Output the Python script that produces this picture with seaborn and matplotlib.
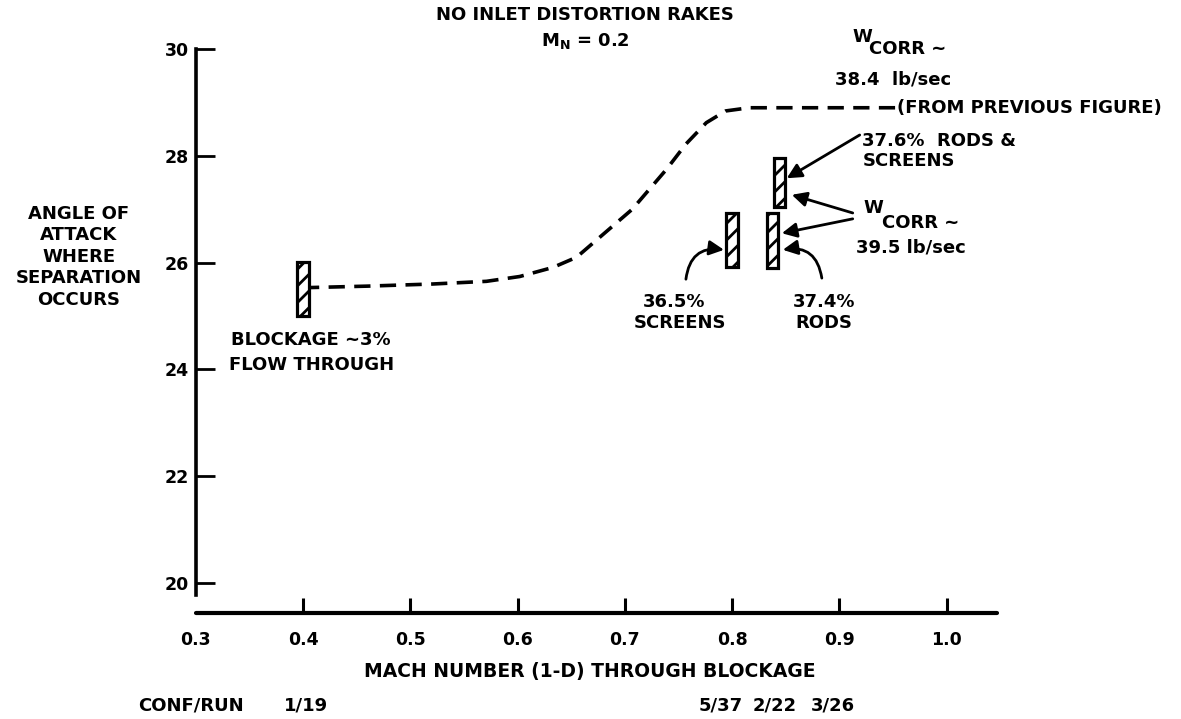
import matplotlib
matplotlib.use("Agg")
import matplotlib.pyplot as plt
import seaborn as sns
import pandas as pd

# ---------------- data ----------------
curve_mach = [0.400, 0.460, 0.521, 0.571, 0.602, 0.633, 0.655, 0.681, 0.707,
              0.739, 0.757, 0.776, 0.794, 0.816, 0.952]
curve_aoa = [25.53, 25.56, 25.60, 25.65, 25.74, 25.91, 26.10, 26.55, 27.00,
             27.75, 28.22, 28.62, 28.84, 28.90, 28.90]

bar_mach = [0.400, 0.800, 0.838, 0.844]
bar_low = [25.00, 25.92, 25.90, 27.04]
bar_high = [26.01, 26.93, 26.93, 27.96]

x_ticks = [0.3, 0.4, 0.5, 0.6, 0.7, 0.8, 0.9, 1.0]
x_tick_labels = ["0.3", "0.4", "0.5", "0.6", "0.7", "0.8", "0.9", "1.0"]
y_ticks = [20, 22, 24, 26, 28, 30]
y_tick_labels = ["20", "22", "24", "26", "28", "30"]

conf_runs = ["1/19", "5/37", "2/22", "3/26"]

# ---------------- style ----------------
sns.set_theme(style="white")
plt.rcParams["font.family"] = ["DejaVu Sans"]
plt.rcParams["font.weight"] = "bold"
plt.rcParams["mathtext.fontset"] = "dejavusans"
plt.rcParams["hatch.linewidth"] = 2.0
plt.rcParams["text.color"] = "black"

W, H = 1181, 719
fig = plt.figure(figsize=(W / 100, H / 100), dpi=100)
fig.patch.set_facecolor("white")
ax = fig.add_axes([195.7 / W, 1 - 613 / H, (997 - 195.7) / W, (613 - 49) / H])
ax.set_facecolor("white")
ax.set_xlim(0.3, 1.047)
ax.set_ylim(19.44, 30)

FS = 13


def ftext(px, py, s, ha="center", va="center", size=FS, **kw):
    fig.text(px / W, 1 - py / H, s, ha=ha, va=va, fontsize=size,
             fontweight="bold", color="black", **kw)


# dashed curve
df = pd.DataFrame({"mach": curve_mach, "aoa": curve_aoa})
sns.lineplot(data=df, x="mach", y="aoa", sort=False, estimator=None, ax=ax,
             color="black", lw=2.6, linestyle=(0, (4.5, 2.6)), zorder=2)

# hatched bars
ax.bar(bar_mach, [h - l for h, l in zip(bar_high, bar_low)], bottom=bar_low,
       width=0.0105, facecolor="white", edgecolor="black", linewidth=2.3,
       hatch="//", zorder=3)

# spines & ticks
for s in ["top", "right"]:
    ax.spines[s].set_visible(False)
ax.spines["left"].set_linewidth(2.6)
ax.spines["left"].set_bounds(19.78, 30)
ax.spines["bottom"].set_linewidth(3.0)
ax.spines["bottom"].set_capstyle("round")
for s in ["left", "bottom"]:
    ax.spines[s].set_color("black")

ax.set_xticks(x_ticks)
ax.set_xticklabels(x_tick_labels, fontsize=FS - 0.5, fontweight="bold")
ax.set_yticks(y_ticks)
ax.set_yticklabels(y_tick_labels, fontsize=FS - 0.5, fontweight="bold")
ax.tick_params(axis="x", direction="in", length=11, width=2.2, pad=13,
               color="black", labelcolor="black", bottom=True)
ax.tick_params(axis="y", direction="in", length=14, width=2.0, pad=5,
               color="black", labelcolor="black", left=True)
ax.xaxis.get_major_ticks()[0].tick1line.set_visible(False)
ax.set_xlabel("")
ax.set_ylabel("")
ax.grid(False)

# arrows
arrow_kw = dict(arrowstyle="-|>", color="black", lw=2.0, mutation_scale=22,
                shrinkA=0, shrinkB=0)
ax.annotate("", xy=(0.851, 27.58), xytext=(0.919, 28.39),
            arrowprops=dict(**arrow_kw))
ax.annotate("", xy=(0.8557, 27.27), xytext=(0.9125, 26.93),
            arrowprops=dict(**arrow_kw))
ax.annotate("", xy=(0.8464, 26.55), xytext=(0.9125, 26.82),
            arrowprops=dict(**arrow_kw))
ax.annotate("", xy=(0.7925, 26.24), xytext=(0.757, 25.69),
            arrowprops=dict(**arrow_kw, connectionstyle="arc3,rad=-0.5"))
ax.annotate("", xy=(0.8473, 26.24), xytext=(0.8837, 25.71),
            arrowprops=dict(**arrow_kw, connectionstyle="arc3,rad=0.5"))

# texts
ftext(585, 15, "NO INLET DISTORTION RAKES")
ftext(585, 41, r"M$_\mathbf{N}$ = 0.2")

ftext(852, 42, "W", ha="left", va="baseline")
ftext(869, 54, "CORR ~", ha="left", va="baseline")
ftext(893, 80, "38.4  lb/sec")
ftext(897, 108, "(FROM PREVIOUS FIGURE)", ha="left")

ftext(862, 141, "37.6%  RODS &", ha="left")
ftext(863, 161, "SCREENS", ha="left")

ftext(863, 213, "W", ha="left", va="baseline")
ftext(882, 228, "CORR ~", ha="left", va="baseline")
ftext(911, 248, "39.5 lb/sec")

ftext(674, 302, "36.5%")
ftext(680, 323, "SCREENS")
ftext(824, 302, "37.4%")
ftext(824, 323, "RODS")

ftext(311, 340, "BLOCKAGE ~3%")
ftext(312, 365, "FLOW THROUGH")

ftext(79, 257, "ANGLE OF\nATTACK\nWHERE\nSEPARATION\nOCCURS",
      multialignment="center", linespacing=1.25)

ftext(590, 671, "MACH NUMBER (1-D) THROUGH BLOCKAGE", size=13.5)

ftext(191, 705, "CONF/RUN")
for px, lab in zip([306, 721, 775, 833], conf_runs):
    ftext(px, 705, lab)

fig.savefig("out.png", dpi=100, facecolor="white")
